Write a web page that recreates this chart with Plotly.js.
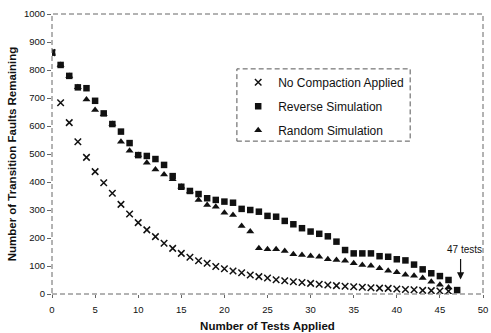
<!DOCTYPE html>
<html>
<head>
<meta charset="utf-8">
<script src="https://cdn.plot.ly/plotly-3.0.1.min.js"></script>
<style>
  html, body { margin: 0; padding: 0; background: #fff; }
  #chart { width: 491px; height: 333px; }
</style>
</head>
<body>
<div id="chart"></div>
<script>
// Test indices (x values)
const testsApplied = [0,1,2,3,4,5,6,7,8,9,10,11,12,13,14,15,16,17,18,19,20,21,22,23,24,25,26,27,28,29,30,31,32,33,34,35,36,37,38,39,40,41,42,43,44,45,46,47];

// Series values (transition faults remaining)
const noCompaction = [862,683,612,544,488,437,397,360,320,286,255,229,205,181,163,145,131,119,110,98,90,82,76,68,62,57,51,47,44,41,38,35,32,30,28,26,24,22,21,20,18,16,15,13,12,11,10];
const reverseSim = [862,818,779,738,735,690,645,607,580,539,496,493,482,461,421,383,368,357,342,336,330,326,304,300,294,279,276,261,249,235,223,215,206,187,157,145,145,145,135,133,124,120,105,88,74,64,50,14];
const randomSim = [862,818,779,738,695,657,642,607,544,512,496,469,445,427,410,383,366,336,318,312,290,282,243,223,163,160,160,154,142,139,136,133,124,121,119,110,104,101,92,83,78,69,65,57,44,33,23];

const seriesNames = ['No Compaction Applied', 'Reverse Simulation', 'Random Simulation'];
const xTickVals = [0,5,10,15,20,25,30,35,40,45,50];
const yTickVals = [0,100,200,300,400,500,600,700,800,900,1000];

const ink = '#111';
const font = 'Liberation Sans, Arial, sans-serif';

const traces = [
  {
    x: testsApplied.slice(0, randomSim.length), y: randomSim,
    name: seriesNames[2], type: 'scatter', mode: 'markers',
    marker: { symbol: 'triangle-up', size: 7, color: ink },
    legendrank: 3, legendgroup: 'c'
  },
  {
    x: testsApplied.slice(0, reverseSim.length), y: reverseSim,
    name: seriesNames[1], type: 'scatter', mode: 'markers',
    marker: { symbol: 'square', size: 6.5, color: ink },
    legendrank: 2, legendgroup: 'b'
  },
  {
    x: testsApplied.slice(0, noCompaction.length), y: noCompaction,
    name: seriesNames[0], type: 'scatter', mode: 'markers',
    marker: { symbol: 'x-thin', size: 6.5, color: ink, line: { color: ink, width: 1.5 } },
    legendrank: 1, legendgroup: 'a'
  }
];

const layout = {
  width: 491, height: 333,
  margin: { l: 52, r: 8, t: 14, b: 39 },
  paper_bgcolor: '#fff', plot_bgcolor: '#fff',
  font: { family: font, color: ink, size: 9 },
  showlegend: true,
  legend: {
    x: 0.432, y: 0.808, xanchor: 'left', yanchor: 'top',
    bgcolor: 'rgba(0,0,0,0)', borderwidth: 0,
    font: { family: font, size: 12, color: ink },
    tracegroupgap: 5,
    itemwidth: 30
  },
  xaxis: {
    range: [0, 50], tickvals: xTickVals, ticktext: xTickVals.map(String),
    showgrid: false, zeroline: false, showline: false,
    ticks: 'outside', ticklen: 3, tickcolor: '#666', tickwidth: 1,
    ticklabelstandoff: 4,
    tickfont: { family: font, size: 9.5, color: ink },
    title: { text: 'Number of Tests Applied', font: { family: font, size: 11.5, color: ink, weight: 'bold' }, standoff: 7 }
  },
  yaxis: {
    range: [0, 1000], tickvals: yTickVals, ticktext: yTickVals.map(String),
    showgrid: false, zeroline: false, showline: false,
    ticks: 'outside', ticklen: 4, tickcolor: '#666', tickwidth: 1,
    tickfont: { family: font, size: 9.5, color: ink },
    title: { text: 'Number of Transition Faults Remaining', font: { family: font, size: 11.5, color: ink, weight: 'bold' }, standoff: 4 }
  },
  shapes: [
    { type: 'rect', xref: 'paper', yref: 'paper', x0: 0, x1: 1, y0: 0, y1: 1,
      line: { color: '#666', width: 1, dash: '5px,3px' } },
    { type: 'rect', xref: 'paper', yref: 'paper', x0: 0.429, x1: 0.831, y0: 0.546, y1: 0.804,
      line: { color: '#555', width: 1, dash: '5px,3px' } }
  ],
  annotations: [
    { x: 47.8, y: 160, xref: 'x', yref: 'y', text: '47 tests', showarrow: false,
      font: { family: font, size: 10, color: ink } },
    { x: 47.4, y: 52, xref: 'x', yref: 'y', ax: 0, ay: -22, text: '', showarrow: true,
      arrowhead: 2, arrowsize: 1.2, arrowwidth: 1.2, arrowcolor: ink }
  ]
};

Plotly.newPlot('chart', traces, layout, { displayModeBar: false, staticPlot: true });
</script>
</body>
</html>
